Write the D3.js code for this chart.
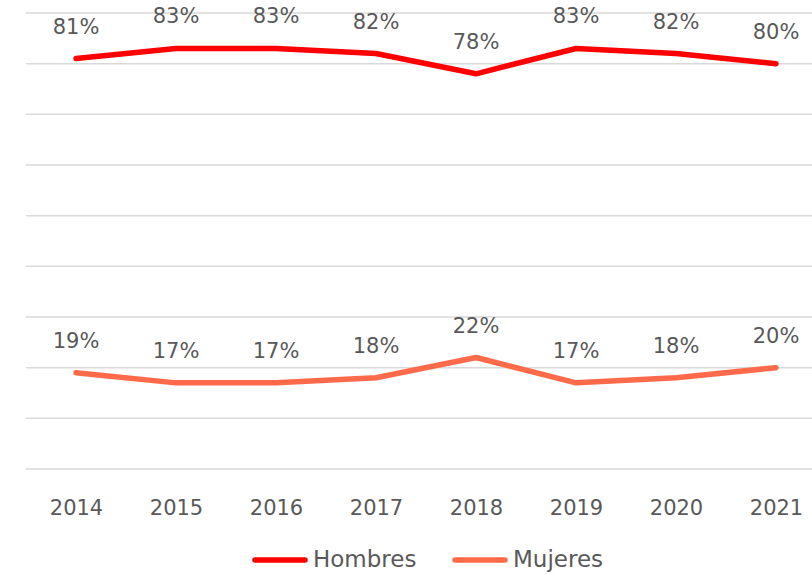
<!DOCTYPE html>
<html>
<head>
<meta charset="utf-8">
<script src="https://cdn.jsdelivr.net/npm/d3@7"></script>
<style>
  body { margin: 0; background: #fff; }
  text { font-family: "DejaVu Sans", sans-serif; fill: #595959; }
</style>
</head>
<body>
<div id="chart"></div>
<script>
// data
var years = ["2014", "2015", "2016", "2017", "2018", "2019", "2020", "2021"];
var hombres = [81, 83, 83, 82, 78, 83, 82, 80];
var mujeres = [19, 17, 17, 18, 22, 17, 18, 20];
var gridTicks = [0, 10, 20, 30, 40, 50, 60, 70, 80, 90];

var width = 812;
var height = 574;

var series = [
  { name: "Hombres", values: hombres, color: "#ff0000" },
  { name: "Mujeres", values: mujeres, color: "#ff6b4a" }
];

var svg = d3
  .select("#chart")
  .append("svg")
  .attr("width", width)
  .attr("height", height);

var xScale = d3.scalePoint().domain(years).range([76, 776]);
var yScale = d3.scaleLinear().domain([0, 90]).range([469, 13]);

// gridlines
svg
  .selectAll(".grid")
  .data(gridTicks)
  .enter()
  .append("line")
  .attr("class", "grid")
  .attr("x1", 26)
  .attr("x2", width)
  .attr("y1", function(d) { return yScale(d); })
  .attr("y2", function(d) { return yScale(d); })
  .attr("stroke", "#d9d9d9")
  .attr("stroke-width", 1.5);

// x axis labels
var xAxis = d3.axisBottom(xScale).tickSize(0).tickPadding(0);
var xg = svg
  .append("g")
  .call(xAxis);
xg.select(".domain").remove();
xg.selectAll("text")
  .attr("y", 515)
  .attr("dy", null)
  .style("font-size", "21px")
  .style("font-family", "DejaVu Sans, sans-serif")
  .attr("fill", "#595959");

var line = d3
  .line()
  .x(function(d, i) { return xScale(years[i]); })
  .y(function(d) { return yScale(d); });

series.forEach(function(s) {
  svg
    .append("path")
    .attr("d", line(s.values))
    .attr("fill", "none")
    .attr("stroke", s.color)
    .attr("stroke-width", 5.5)
    .attr("stroke-linecap", "round")
    .attr("stroke-linejoin", "round");

  svg
    .selectAll(".lbl-" + s.name)
    .data(s.values)
    .enter()
    .append("text")
    .attr("x", function(d, i) { return xScale(years[i]); })
    .attr("y", function(d) { return yScale(d) - 25; })
    .attr("text-anchor", "middle")
    .style("font-size", "21px")
    .text(function(d) { return d + "%"; });
});

// legend
var legendX = [255, 455];
series.forEach(function(s, i) {
  svg
    .append("line")
    .attr("x1", legendX[i])
    .attr("x2", legendX[i] + 50)
    .attr("y1", 560)
    .attr("y2", 560)
    .attr("stroke", s.color)
    .attr("stroke-width", 5.5)
    .attr("stroke-linecap", "round");
  svg
    .append("text")
    .attr("x", legendX[i] + 58)
    .attr("y", 567)
    .style("font-size", "23px")
    .text(s.name);
});
</script>
</body>
</html>
